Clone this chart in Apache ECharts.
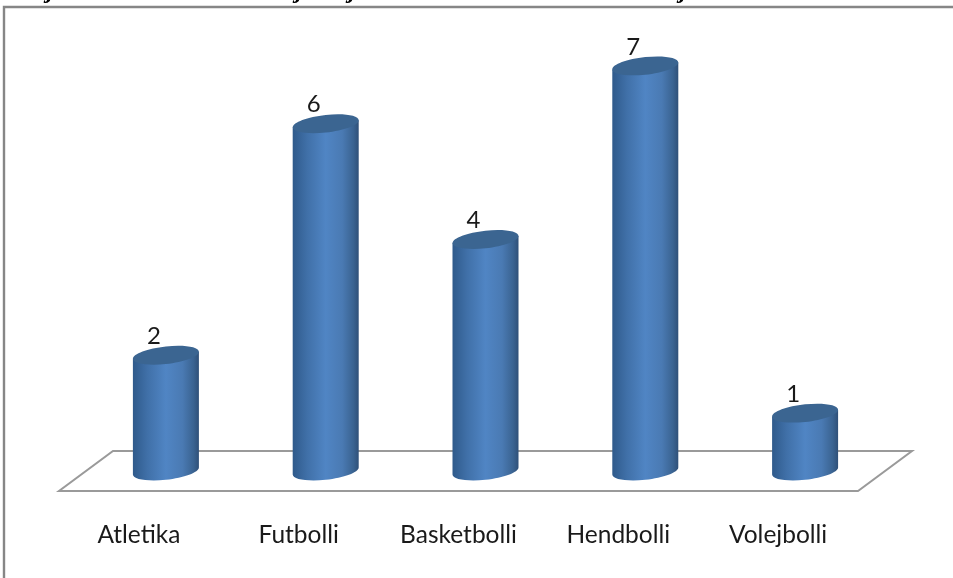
<!DOCTYPE html>
<html><head><meta charset="utf-8">
<style>html,body{margin:0;padding:0;background:#fff}#c{width:953px;height:578px}</style>
<script src="https://cdn.jsdelivr.net/npm/echarts@6/dist/echarts.min.js"></script>
</head><body><div id="c"></div>
<script>
const categories = ['Atletika','Futbolli','Basketbolli','Hendbolli','Volejbolli'];
const values = [2,6,4,7,1];
const croppedTitleGlyphs = ['j','j','j','j'];
const croppedTitleX = [50,299,352,683];
const FONT = 'Lato, "Open Sans", sans-serif';
const chart = echarts.init(document.getElementById('c'), null, {renderer:'canvas'});
const DX = 27, DY = -20, RX = 33, TILT = 3.5, RY = 8.8, K = 0.5523;
const bodyFill = {type:'linear',x:0,y:0,x2:1,y2:0,colorStops:[
  {offset:0,color:'#2f5a8b'},{offset:0.22,color:'#4070a8'},{offset:0.5,color:'#5085c4'},
  {offset:0.75,color:'#4a7ab3'},{offset:0.92,color:'#3a6391'},{offset:1,color:'#2f5078'}]};
function underside(cx, cy){
  return 'C'+(cx+RX)+' '+(cy-TILT+K*RY)+' '+(cx+K*RX)+' '+(cy+RY-K*TILT)+' '+cx+' '+(cy+RY)
    +'C'+(cx-K*RX)+' '+(cy+RY+K*TILT-K*TILT*0)+' '+(cx-RX)+' '+(cy+TILT+K*RY)+' '+(cx-RX)+' '+(cy+TILT);
}
function overside(cx, cy){
  return 'C'+(cx-RX)+' '+(cy+TILT-K*RY)+' '+(cx-K*RX)+' '+(cy-RY+K*TILT)+' '+cx+' '+(cy-RY)
    +'C'+(cx+K*RX)+' '+(cy-RY-K*TILT)+' '+(cx+RX)+' '+(cy-TILT-K*RY)+' '+(cx+RX)+' '+(cy-TILT);
}
function renderCylinder(params, api){
  const top = api.coord([api.value(0), api.value(1)]);
  const base = api.coord([api.value(0), 0]);
  const cx = top[0]+DX, ty = top[1]+DY, by = base[1]+DY;
  const body = 'M'+(cx-RX)+' '+(ty+TILT)+'L'+(cx+RX)+' '+(ty-TILT)+'L'+(cx+RX)+' '+(by-TILT)
    +underside(cx,by)+'Z';
  const cap = 'M'+(cx+RX)+' '+(ty-TILT)+underside(cx,ty)+overside(cx,ty)+'Z';
  return {type:'group',children:[
    {type:'path',shape:{pathData:body},style:{fill:bodyFill}},
    {type:'path',shape:{pathData:cap},style:{fill:'#3b6591'}},
    {type:'text',style:{text:String(api.value(1)),x:cx-12,y:ty-19,align:'center',verticalAlign:'middle',
      font:'24px '+FONT,fill:'#1a1a1a'}}
  ]};
}
function renderFloor(params){
  const c = params.coordSys, L=c.x, R=c.x+c.width, B=c.y+c.height;
  return {type:'polygon',shape:{points:[[L,B],[R,B],[R+2*DX,B+2*DY],[L+2*DX,B+2*DY]]},
    style:{fill:'#fff',stroke:'#9a9a9a',lineWidth:2}};
}
chart.setOption({
  animation:false,
  backgroundColor:'#fff',
  grid:{left:59,right:95,top:28,bottom:87},
  xAxis:{type:'category',data:categories,axisLine:{show:false},axisTick:{show:false},
    axisLabel:{fontFamily:FONT,fontSize:24.5,color:'#1a1a1a',margin:32}},
  yAxis:{type:'value',min:0,max:8,interval:1,show:false,splitLine:{show:false}},
  graphic:[
    {type:'polyline',silent:true,shape:{points:[[4,578],[4,7],[953,7]]},style:{stroke:'#868686',lineWidth:2.4,fill:null}},
    ...croppedTitleGlyphs.map((g,i)=>({type:'text',silent:true,x:croppedTitleX[i],y:4,
      style:{text:g,align:'center',verticalAlign:'bottom',font:'italic bold 24px "Liberation Serif", serif',fill:'#000'}}))
  ],
  series:[
    {type:'custom',data:[[0,0]],renderItem:renderFloor,silent:true,z:1},
    {type:'custom',data:values.map((v,i)=>[i,v]),encode:{x:0,y:1},renderItem:renderCylinder,z:2}
  ]
});
</script></body></html>
